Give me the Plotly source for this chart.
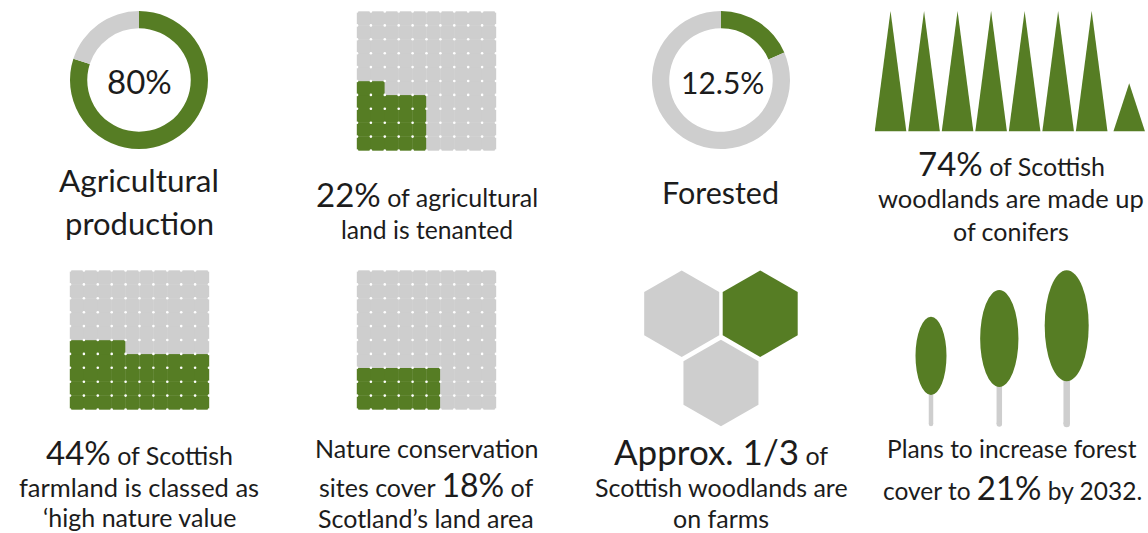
import plotly.graph_objects as go

W, H = 1148, 533
GREEN = "#567D24"
GREY = "#CECECE"
INK = "#1c1c1c"
FONT = "Lato"

# ---- data ----
donut_labels = ["Share", "Remainder"]
agri_values = [80, 20]
forest_values = [18.5, 81.5]
tenanted_pct = 22
high_nature_pct = 44
conservation_pct = 18
tenanted_row = 5
high_nature_row = 10
conservation_row = 6
conifer_heights = [1, 1, 1, 1, 1, 1, 1, 0.4]
conifer_slots = [0, 1, 2, 3, 4, 5, 6, 7.12]
hex_slots_x = [0, 1, 0.5]
hex_slots_y = [1, 1, 0]
hex_share = [0, 1, 0]
tree_x = [931, 999.3, 1066.7]
tree_crown_width = [31, 38.3, 44]
tree_crown_top = [316.7, 290, 270.3]
tree_crown_bottom = [395, 387, 381.3]
tree_stem_width = [4.5, 5.5, 6.5]
tree_base = 424

fig = go.Figure()


def px_dom_x(a, b):
    return [a / W, b / W]


def px_dom_y(a, b):
    return [1 - b / H, 1 - a / H]


axis_count = 0


def new_axes(x0, x1, y0, y1, xr, yr):
    global axis_count
    axis_count += 1
    n = "" if axis_count == 1 else str(axis_count)
    fig.update_layout({
        f"xaxis{n}": dict(domain=px_dom_x(x0, x1), range=xr, visible=False, fixedrange=True,
                          anchor=f"y{n}"),
        f"yaxis{n}": dict(domain=px_dom_y(y0, y1), range=yr, visible=False, fixedrange=True,
                          anchor=f"x{n}"),
    })
    return f"x{n}", f"y{n}"


def donut(values, x0, x1, y0, y1):
    fig.add_trace(go.Pie(labels=donut_labels, values=values, hole=0.75, sort=False,
                         direction="clockwise", rotation=0, textinfo="none",
                         hoverinfo="skip", showlegend=False,
                         marker=dict(colors=[GREEN, GREY], line=dict(width=0)),
                         domain=dict(x=px_dom_x(x0, x1), y=px_dom_y(y0, y1))))


def waffle(pct, row_len, x0, x1, y0, y1):
    xa, ya = new_axes(x0, x1, y0, y1, [0, 10], [0, 10])
    cx, cy, col = [], [], []
    for r in range(10):
        for c in range(10):
            idx_ok = r * row_len + c < pct and c < row_len
            cx.append(c + 0.5)
            cy.append(r + 0.5)
            col.append(GREEN if idx_ok else GREY)
    size = (x1 - x0) / 10 + 0.4
    fig.add_trace(go.Scatter(x=cx, y=cy, mode="markers", xaxis=xa, yaxis=ya, showlegend=False,
                             hoverinfo="skip", cliponaxis=False,
                             marker=dict(symbol="square", size=size, color=col, line=dict(width=0))))
    dx = [c for c in range(11) for r in range(11)]
    dy = [r for c in range(11) for r in range(11)]
    fig.add_trace(go.Scatter(x=dx, y=dy, mode="markers", xaxis=xa, yaxis=ya, showlegend=False,
                             hoverinfo="skip", cliponaxis=False,
                             marker=dict(symbol="circle", size=2.6, color="white", line=dict(width=0))))


donut(agri_values, 70, 208, 11, 149)
donut(forest_values, 652, 790, 11, 149)
waffle(tenanted_pct, tenanted_row, 357, 496, 11.5, 150.5)
waffle(high_nature_pct, high_nature_row, 70, 209, 270.5, 409.5)
waffle(conservation_pct, conservation_row, 357, 496, 270.5, 409.5)

# conifers
xa, ya = new_axes(874.7, 1145.3, 11, 131.5, [-0.472, 7.6], [0, 1])
for slot, h in zip(conifer_slots, conifer_heights):
    fig.add_trace(go.Scatter(x=[slot - 0.472, slot, slot + 0.472, slot - 0.472], y=[0, h, 0, 0],
                             mode="lines", fill="toself", fillcolor=GREEN, line=dict(width=0),
                             xaxis=xa, yaxis=ya, showlegend=False, hoverinfo="skip"))

# hexagons
xa, ya = new_axes(681.7, 760.2, 313.7, 383, [0, 1], [0, 1])
fig.add_trace(go.Scatter(x=hex_slots_x, y=hex_slots_y, mode="markers", xaxis=xa, yaxis=ya,
                         showlegend=False, hoverinfo="skip", cliponaxis=False,
                         marker=dict(symbol="hexagon", size=86.6, line=dict(width=0),
                                     color=[GREEN if s else GREY for s in hex_share])))

# trees (axes in page-pixel units over the panel)
xa, ya = new_axes(900, 1100, 265, 430, [900, 1100], [430, 265])
for x, w, t, b, sw in zip(tree_x, tree_crown_width, tree_crown_top, tree_crown_bottom, tree_stem_width):
    fig.add_trace(go.Scatter(x=[x, x], y=[b - 4, tree_base], mode="lines", xaxis=xa, yaxis=ya,
                             line=dict(color=GREY, width=sw), showlegend=False, hoverinfo="skip"))
    fig.add_trace(go.Scatter(x=[x], y=[tree_base], mode="markers", xaxis=xa, yaxis=ya,
                             marker=dict(color=GREY, size=sw, line=dict(width=0)),
                             showlegend=False, hoverinfo="skip"))
    fig.add_shape(type="circle", xref=xa, yref=ya, x0=x - w / 2, x1=x + w / 2, y0=t, y1=b,
                  fillcolor=GREEN, line=dict(width=0), layer="above")


def big(s, size):
    return f'<span style="font-size:{size}px">{s}</span>'


texts = [
    (139.5, 81, 33, "80%"),
    (722, 82, 30, "12.5%"),
    (139, 180, 31.5, "Agricultural"),
    (139, 223, 31, "production"),
    (427, 194, 25, big("22%", 33) + " of agricultural"),
    (427, 230, 24.7, "land is tenanted"),
    (720.5, 192, 30.5, "Forested"),
    (1011, 163, 25, big("74%", 33) + " of Scottish"),
    (1011, 198, 25.5, "woodlands are made up"),
    (1011, 231, 25, "of conifers"),
    (139, 452, 25, big("44%", 33) + " of Scottish"),
    (139, 487, 25.5, "farmland is classed as"),
    (139, 517, 25, "‘high nature value"),
    (426, 448, 25, "Nature conservation"),
    (426, 484.5, 25, "sites cover " + big("18%", 32) + " of"),
    (426, 518, 25, "Scotland’s land area"),
    (721, 451, 25, big("Approx. 1/3", 35) + " of"),
    (721, 487, 25, "Scottish woodlands are"),
    (721, 518, 25, "on farms"),
    (1012, 448, 24.5, "Plans to increase forest"),
    (1012, 487, 24.5, "cover to " + big("21%", 33) + " by 2032."),
]
for x, y, size, s in texts:
    fig.add_annotation(x=x / W, y=1 - y / H, xref="paper", yref="paper", text=s, showarrow=False,
                       xanchor="center", yanchor="middle", font=dict(family=FONT, size=size, color=INK))

fig.update_layout(width=W, height=H, margin=dict(l=0, r=0, t=0, b=0), autosize=False,
                  paper_bgcolor="white", plot_bgcolor="rgba(0,0,0,0)", showlegend=False)
fig.write_html("out.html", config={"displayModeBar": False},
               post_script="document.body.style.margin='0';document.documentElement.style.overflow='hidden';")
